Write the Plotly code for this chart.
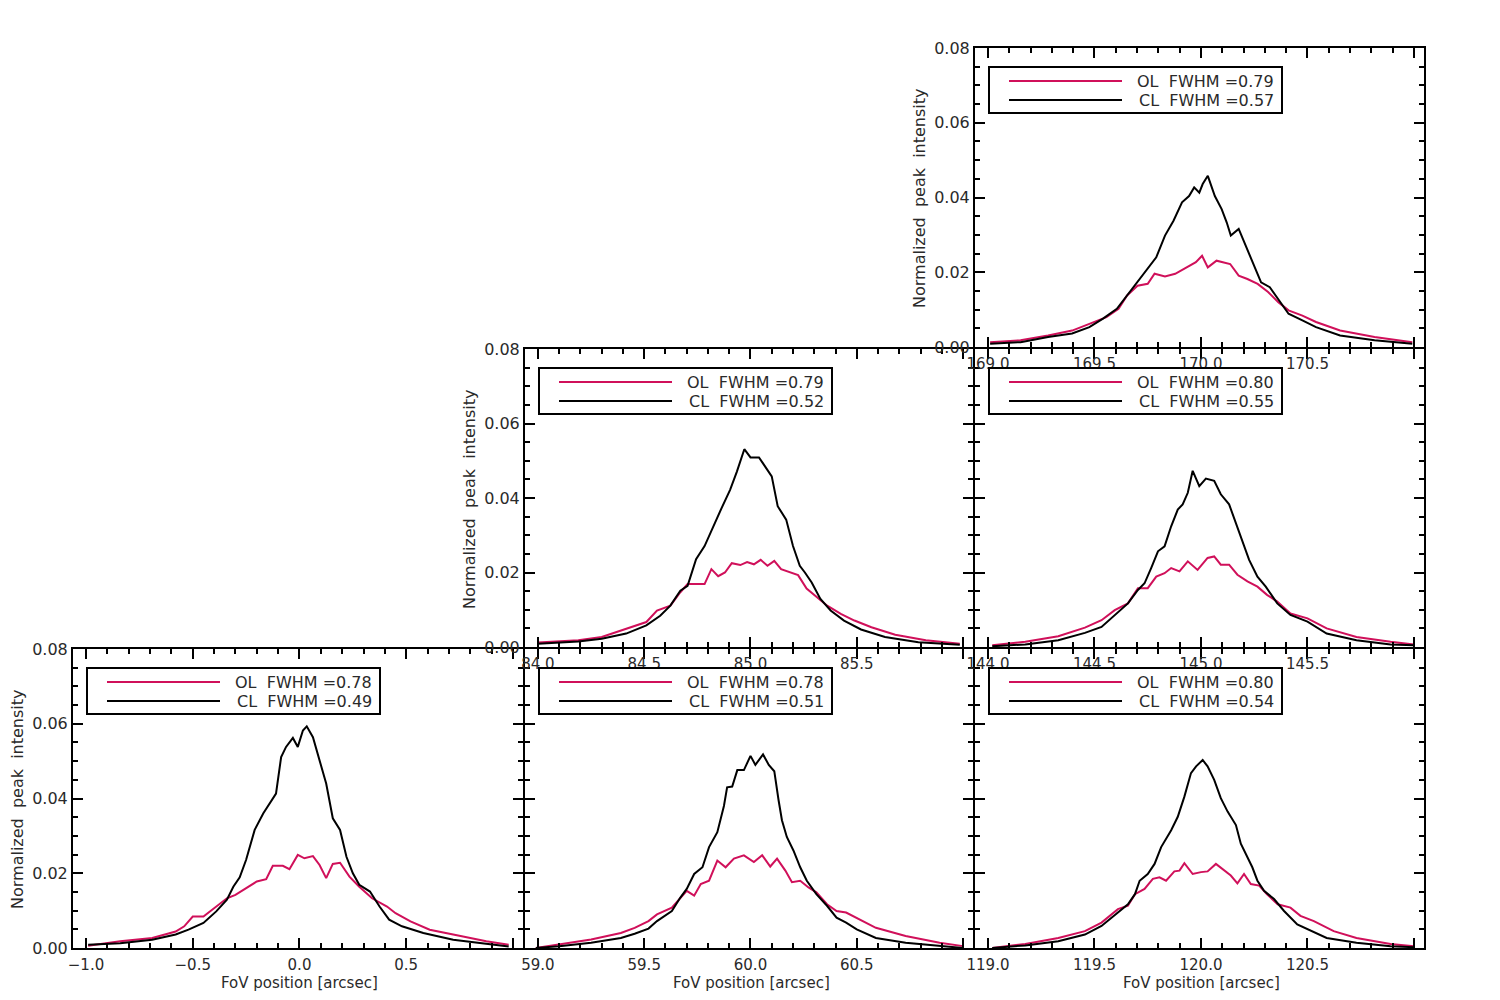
import plotly.graph_objects as go

# panel order: bottom-left, bottom-centre, bottom-right, middle-centre, middle-right, top-right
panel_centers = [0.0, 60.0, 120.0, 85.0, 145.0, 170.0]
panel_col = [0, 1, 2, 1, 2, 2]
panel_row = [0, 0, 0, 1, 1, 2]
ol_fwhm = [0.78, 0.78, 0.80, 0.79, 0.80, 0.79]
cl_fwhm = [0.49, 0.51, 0.54, 0.52, 0.55, 0.57]

# profiles: offset from panel centre [arcsec] and normalized peak intensity
bl_cl_dx = [-0.99, -0.84, -0.69, -0.58, -0.52, -0.45, -0.39, -0.34, -0.31, -0.28, -0.25, -0.21, -0.17,
            -0.14, -0.11, -0.086, -0.063, -0.031, -0.008, 0.016, 0.034, 0.063, 0.094, 0.125, 0.156, 0.19,
            0.22, 0.25, 0.28, 0.33, 0.375, 0.42, 0.48, 0.58, 0.72, 0.875, 0.98]
bl_cl_y = [0.0009, 0.0013, 0.0022, 0.0036, 0.0049, 0.0067, 0.0098, 0.0129, 0.0164, 0.0189, 0.0236, 0.0316,
           0.036, 0.0387, 0.0413, 0.0511, 0.0538, 0.0562, 0.0538, 0.0582, 0.0593, 0.0564, 0.0502, 0.044,
           0.0347, 0.0316, 0.0244, 0.02, 0.0169, 0.0151, 0.0111, 0.0076, 0.0058, 0.004, 0.0022, 0.0012, 0.0004]
bl_ol_dx = [-0.99, -0.84, -0.69, -0.58, -0.54, -0.50, -0.45, -0.39, -0.34, -0.30, -0.25, -0.20, -0.156,
            -0.125, -0.078, -0.047, -0.008, 0.023, 0.063, 0.094, 0.125, 0.156, 0.19, 0.234, 0.28, 0.34,
            0.41, 0.45, 0.52, 0.61, 0.72, 0.875, 0.98]
bl_ol_y = [0.0006, 0.0018, 0.0027, 0.0044, 0.0058, 0.0084, 0.0084, 0.0111, 0.0133, 0.0142, 0.016, 0.0178,
           0.0184, 0.022, 0.022, 0.0211, 0.0249, 0.024, 0.0246, 0.0222, 0.0187, 0.0225, 0.0228, 0.0191,
           0.0164, 0.0133, 0.0111, 0.0093, 0.0071, 0.0049, 0.0036, 0.0018, 0.0009]

bc_cl_dx = [-1.01, -0.90, -0.75, -0.61, -0.545, -0.48, -0.44, -0.37, -0.33, -0.30, -0.265, -0.226, -0.195,
            -0.156, -0.125, -0.11, -0.086, -0.062, -0.031, 0.0, 0.023, 0.059, 0.086, 0.112, 0.132, 0.148,
            0.171, 0.202, 0.234, 0.265, 0.31, 0.36, 0.405, 0.45, 0.50, 0.59, 0.73, 0.89, 1.0]
bc_cl_y = [0.0, 0.0005, 0.0014, 0.0027, 0.0038, 0.0052, 0.0072, 0.0099, 0.0135, 0.0158, 0.0198, 0.0216,
           0.027, 0.031, 0.038, 0.043, 0.0432, 0.0476, 0.0476, 0.0514, 0.049, 0.0518, 0.049, 0.0473, 0.0396,
           0.0342, 0.0297, 0.0261, 0.0216, 0.018, 0.0144, 0.0113, 0.0081, 0.0068, 0.005, 0.0027, 0.0014,
           0.0005, 0.0]
bc_ol_dx = [-1.01, -0.90, -0.75, -0.61, -0.545, -0.48, -0.44, -0.37, -0.33, -0.30, -0.265, -0.234, -0.195,
            -0.156, -0.117, -0.078, -0.031, 0.016, 0.055, 0.093, 0.125, 0.164, 0.195, 0.234, 0.273, 0.31,
            0.36, 0.405, 0.45, 0.50, 0.59, 0.73, 0.89, 1.0]
bc_ol_y = [0.0, 0.0009, 0.0023, 0.004, 0.0054, 0.0072, 0.009, 0.0108, 0.0135, 0.0153, 0.014, 0.0171, 0.018,
           0.0234, 0.0216, 0.0239, 0.0248, 0.023, 0.0248, 0.0218, 0.0239, 0.0207, 0.0176, 0.018, 0.0162,
           0.0149, 0.0117, 0.0099, 0.0095, 0.0081, 0.0054, 0.0032, 0.0014, 0.0005]

br_cl_dx = [-0.98, -0.825, -0.67, -0.545, -0.467, -0.39, -0.343, -0.31, -0.288, -0.25, -0.218, -0.187, -0.14,
            -0.109, -0.078, -0.047, -0.023, 0.008, 0.031, 0.062, 0.093, 0.125, 0.164, 0.187, 0.21, 0.241,
            0.265, 0.296, 0.343, 0.39, 0.452, 0.50, 0.59, 0.73, 0.89, 1.0]
br_cl_y = [0.0, 0.0007, 0.0018, 0.0036, 0.0059, 0.0095, 0.0117, 0.0144, 0.018, 0.0198, 0.0225, 0.027, 0.0315,
           0.0351, 0.0405, 0.0468, 0.0486, 0.0503, 0.0486, 0.045, 0.0401, 0.0365, 0.0329, 0.0279, 0.0252,
           0.0216, 0.018, 0.0153, 0.0131, 0.0099, 0.0063, 0.005, 0.0027, 0.0014, 0.0005, 0.0002]
br_ol_dx = [-0.98, -0.825, -0.67, -0.545, -0.467, -0.39, -0.343, -0.31, -0.265, -0.226, -0.195, -0.164,
            -0.125, -0.101, -0.078, -0.039, 0.0, 0.031, 0.07, 0.109, 0.14, 0.171, 0.202, 0.234, 0.273, 0.31,
            0.36, 0.42, 0.467, 0.53, 0.623, 0.73, 0.89, 1.0]
br_ol_y = [0.0, 0.0011, 0.0027, 0.0045, 0.0068, 0.0104, 0.0113, 0.0144, 0.0158, 0.0185, 0.0189, 0.018, 0.0205,
           0.0207, 0.0227, 0.0198, 0.0203, 0.0205, 0.0225, 0.0207, 0.0194, 0.0173, 0.0198, 0.0171, 0.0167,
           0.0144, 0.0117, 0.0108, 0.0086, 0.0072, 0.0045, 0.0027, 0.0011, 0.0005]

mc_cl_dx = [-1.0, -0.81, -0.70, -0.585, -0.49, -0.425, -0.377, -0.33, -0.296, -0.256, -0.216, -0.176, -0.136,
            -0.096, -0.064, -0.029, 0.0, 0.04, 0.072, 0.10, 0.128, 0.168, 0.20, 0.232, 0.256, 0.288, 0.329,
            0.377, 0.44, 0.52, 0.633, 0.79, 0.985]
mc_cl_y = [0.0009, 0.0015, 0.0022, 0.0036, 0.0058, 0.0084, 0.0111, 0.0151, 0.0164, 0.0236, 0.0271, 0.0324,
           0.0373, 0.0422, 0.0471, 0.0531, 0.0509, 0.0509, 0.048, 0.0458, 0.0378, 0.0342, 0.0271, 0.0218,
           0.02, 0.0173, 0.0129, 0.0098, 0.0071, 0.0047, 0.0027, 0.0013, 0.0006]
mc_ol_dx = [-1.0, -0.81, -0.70, -0.585, -0.49, -0.44, -0.377, -0.33, -0.296, -0.256, -0.216, -0.184, -0.152,
            -0.12, -0.088, -0.048, -0.016, 0.016, 0.048, 0.08, 0.112, 0.144, 0.184, 0.224, 0.264, 0.304,
            0.361, 0.425, 0.489, 0.569, 0.681, 0.825, 0.985]
mc_ol_y = [0.0012, 0.0018, 0.0027, 0.0049, 0.0067, 0.0098, 0.0111, 0.0147, 0.0169, 0.0169, 0.0169, 0.0209,
           0.019, 0.02, 0.0225, 0.022, 0.0228, 0.0222, 0.0234, 0.0218, 0.0231, 0.0209, 0.02, 0.0193, 0.0157,
           0.0138, 0.0111, 0.0089, 0.0071, 0.0053, 0.0033, 0.0018, 0.0009]

mr_cl_dx = [-0.98, -0.825, -0.67, -0.545, -0.467, -0.405, -0.343, -0.296, -0.265, -0.234, -0.202, -0.171,
            -0.14, -0.109, -0.086, -0.062, -0.039, -0.008, 0.023, 0.062, 0.093, 0.132, 0.164, 0.195, 0.226,
            0.265, 0.304, 0.358, 0.42, 0.50, 0.59, 0.73, 0.89, 1.0]
mr_cl_y = [0.0002, 0.0007, 0.0018, 0.0038, 0.0054, 0.0086, 0.0117, 0.0153, 0.0171, 0.0212, 0.0257, 0.027,
           0.0324, 0.0369, 0.0383, 0.0414, 0.0473, 0.0432, 0.0452, 0.0446, 0.041, 0.0383, 0.0333, 0.0288,
           0.0234, 0.0189, 0.0162, 0.0117, 0.0086, 0.0068, 0.0036, 0.0018, 0.0007, 0.0005]
mr_ol_dx = [-0.98, -0.825, -0.67, -0.545, -0.467, -0.405, -0.343, -0.296, -0.25, -0.21, -0.171, -0.14,
            -0.101, -0.062, -0.016, 0.031, 0.062, 0.093, 0.132, 0.171, 0.218, 0.265, 0.31, 0.358, 0.42, 0.50,
            0.59, 0.73, 0.89, 1.0]
mr_ol_y = [0.0005, 0.0014, 0.0029, 0.0052, 0.0072, 0.0099, 0.0117, 0.0158, 0.0158, 0.0189, 0.0198, 0.0212,
           0.0203, 0.023, 0.0207, 0.0239, 0.0243, 0.0221, 0.0221, 0.0194, 0.0176, 0.0162, 0.014, 0.0122,
           0.009, 0.0077, 0.005, 0.0027, 0.0014, 0.0007]

tr_cl_dx = [-0.99, -0.847, -0.718, -0.605, -0.524, -0.46, -0.395, -0.347, -0.298, -0.25, -0.21, -0.169,
            -0.129, -0.089, -0.056, -0.032, -0.008, 0.008, 0.032, 0.065, 0.097, 0.121, 0.14, 0.177, 0.218,
            0.25, 0.282, 0.323, 0.363, 0.411, 0.476, 0.54, 0.653, 0.815, 0.992]
tr_cl_y = [0.0009, 0.0013, 0.0027, 0.0036, 0.0053, 0.0076, 0.0102, 0.0138, 0.0173, 0.0209, 0.024, 0.0298,
           0.0338, 0.0387, 0.0404, 0.0427, 0.0413, 0.0436, 0.0458, 0.0404, 0.0369, 0.0333, 0.0298, 0.0316,
           0.0262, 0.0218, 0.0173, 0.016, 0.0129, 0.0089, 0.0071, 0.0053, 0.0031, 0.0018, 0.0009]
tr_ol_dx = [-0.99, -0.847, -0.718, -0.605, -0.524, -0.444, -0.387, -0.347, -0.298, -0.25, -0.218, -0.169,
            -0.121, -0.073, -0.024, 0.005, 0.032, 0.073, 0.137, 0.177, 0.218, 0.266, 0.315, 0.363, 0.411,
            0.476, 0.54, 0.653, 0.815, 0.992]
tr_ol_y = [0.0013, 0.0018, 0.0031, 0.0044, 0.0062, 0.008, 0.0102, 0.0138, 0.0164, 0.0169, 0.0196, 0.0189,
           0.0196, 0.0211, 0.0227, 0.0244, 0.0213, 0.0231, 0.0222, 0.0191, 0.0182, 0.0169, 0.0147, 0.012,
           0.0098, 0.0084, 0.0067, 0.0044, 0.0027, 0.0013]

ol_dx = [bl_ol_dx, bc_ol_dx, br_ol_dx, mc_ol_dx, mr_ol_dx, tr_ol_dx]
ol_y = [bl_ol_y, bc_ol_y, br_ol_y, mc_ol_y, mr_ol_y, tr_ol_y]
cl_dx = [bl_cl_dx, bc_cl_dx, br_cl_dx, mc_cl_dx, mr_cl_dx, tr_cl_dx]
cl_y = [bl_cl_y, bc_cl_y, br_cl_y, mc_cl_y, mr_cl_y, tr_cl_y]

y_ticks = [0.0, 0.02, 0.04, 0.06, 0.08]
x_tick_offsets = [-1.0, -0.5, 0.0, 0.5, 1.0]

# the page puts the figure 8 px in from the top-left corner
OFF = 8
W, H = 1500 - 2 * OFF, 1000 - 2 * OFF
FONT = "DejaVu Sans"
TXT = "#2a2a2a"
RED = "#d0105a"
# panel edges in screen pixels; neighbours are 2 px apart so their frame lines coincide
col_x = [(73, 523), (525, 973), (975, 1424)]
row_y = [(649, 948), (349, 647), (48, 347)]


def px(x):
    return (x - OFF) / W


def py(y):
    return 1 - (y - OFF) / H


def fmt(v):
    return f"{v:.1f}".replace("-", "\u2212")


fig = go.Figure()
shapes = []
annotations = []

for i in range(6):
    n = i + 1
    sfx = "" if n == 1 else str(n)
    c = panel_centers[i]
    left, right = col_x[panel_col[i]]
    top, bottom = row_y[panel_row[i]]

    fig.add_trace(go.Scatter(x=[c + d for d in ol_dx[i]], y=ol_y[i], xaxis="x" + sfx, yaxis="y" + sfx,
                             mode="lines", line=dict(color=RED, width=2), showlegend=False, hoverinfo="skip"))
    fig.add_trace(go.Scatter(x=[c + d for d in cl_dx[i]], y=cl_y[i], xaxis="x" + sfx, yaxis="y" + sfx,
                             mode="lines", line=dict(color="black", width=2), showlegend=False, hoverinfo="skip"))

    xt = [c + o for o in x_tick_offsets]
    xlab = [fmt(v) for v in xt[:-1]] + [""]
    axis_common = dict(showline=True, linewidth=2, linecolor="black", mirror="allticks",
                       ticks="inside", ticklen=10, tickwidth=1.5, tickcolor="black", automargin=False,
                       showgrid=False, zeroline=False)
    fig.update_layout(**{
        "xaxis" + sfx: dict(domain=[px(left), px(right)], anchor="y" + sfx,
                            range=[c - 1.061, c + 1.047], tickmode="array", tickvals=xt, ticktext=xlab,
                            ticklabelstandoff=2, tickfont=dict(family=FONT, size=15, color=TXT),
                            minor=dict(ticks="inside", ticklen=5, tickwidth=1.5, tickcolor="black",
                                       tick0=c, dtick=0.1, showgrid=False),
                            **axis_common),
        "yaxis" + sfx: dict(domain=[py(bottom), py(top)], anchor="x" + sfx,
                            range=[0, 0.08], tickmode="array", tickvals=y_ticks,
                            ticktext=[f"{v:.2f}" for v in y_ticks],
                            showticklabels=i in (0, 3, 5), ticklabelstandoff=0,
                            tickfont=dict(family=FONT, size=16, color=TXT),
                            minor=dict(ticks="inside", ticklen=5, tickwidth=1.5, tickcolor="black",
                                       tick0=0, dtick=0.005, showgrid=False),
                            **axis_common),
    })

    if i in (0, 3, 5):
        annotations.append(dict(x=px(left - 56), y=py(top + 150), xref="paper", yref="paper",
                                xanchor="center", yanchor="middle",
                                text="Normalized\u00a0 peak\u00a0 intensity", textangle=-90, showarrow=False,
                                font=dict(family=FONT, size=16, color=TXT)))
    if panel_row[i] == 0:
        annotations.append(dict(x=px(left + 226), y=py(983), xref="paper", yref="paper",
                                xanchor="center", yanchor="middle",
                                text="FoV position [arcsec]", showarrow=False,
                                font=dict(family=FONT, size=15, color=TXT)))

    # legend box
    shapes.append(dict(type="rect", xref="paper", yref="paper", x0=px(left + 14), x1=px(left + 307),
                       y0=py(top + 19), y1=py(top + 65), line=dict(color="black", width=2),
                       fillcolor="rgba(0,0,0,0)"))
    for k, (col, lab, val) in enumerate([(RED, "OL", ol_fwhm[i]), ("black", "CL", cl_fwhm[i])]):
        yy = top + 33 + 19 * k
        shapes.append(dict(type="line", xref="paper", yref="paper", x0=px(left + 34), x1=px(left + 147),
                           y0=py(yy), y1=py(yy), line=dict(color=col, width=2)))
        annotations.append(dict(x=px(left + 301), y=py(yy), xref="paper", yref="paper", xanchor="right",
                                yanchor="middle", text=f"{lab}\u00a0\u00a0FWHM\u00a0=" + f"{val:.2f}",
                                showarrow=False, font=dict(family=FONT, size=16, color=TXT)))

fig.update_layout(width=W, height=H, margin=dict(l=0, r=0, t=0, b=0, pad=0, autoexpand=False),
                  paper_bgcolor="white", plot_bgcolor="white",
                  shapes=shapes, annotations=annotations, showlegend=False)

fig.write_html("out.html")
